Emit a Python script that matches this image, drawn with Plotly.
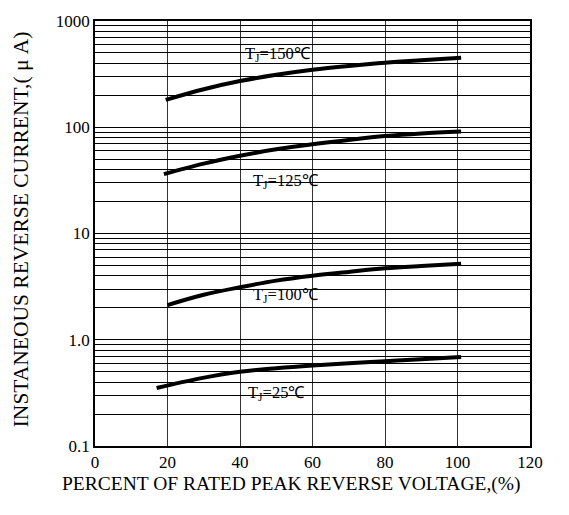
import math
import plotly.graph_objects as go

# Percent of rated peak reverse voltage (%)
x_150 = [19.5, 30, 40, 50, 60, 70, 80, 90, 101]
y_150 = [181, 228, 272, 312, 348, 378, 405, 428, 451]

x_125 = [19, 30, 40, 50, 60, 70, 80, 90, 101]
y_125 = [36.2, 45.5, 53.9, 62.0, 69.2, 76.0, 82.6, 87.5, 91.4]

x_100 = [20, 30, 40, 50, 60, 70, 80, 90, 101]
y_100 = [2.12, 2.65, 3.12, 3.6, 4.0, 4.35, 4.7, 4.95, 5.2]

x_25 = [17, 29, 40, 50, 60, 70, 80, 90, 101]
y_25 = [0.351, 0.433, 0.50, 0.54, 0.573, 0.60, 0.628, 0.655, 0.689]

curve_labels = ["T<sub>J</sub>=150℃", "T<sub>J</sub>=125℃", "T<sub>J</sub>=100℃", "T<sub>J</sub>=25℃"]
label_x = [50.4, 52.8, 52.8, 50.1]
label_y = [494, 31.5, 2.65, 0.313]

x_ticks = [0, 20, 40, 60, 80, 100, 120]
y_decades = [0.1, 1.0, 10, 100, 1000]
y_decade_text = ["0.1", "1.0", "10", "100", "1000"]

x_title = "PERCENT OF RATED PEAK REVERSE VOLTAGE,(%)"
y_title = "INSTANEOUS REVERSE CURRENT,( μ A)"

FONT = "Liberation Serif"

# all minor grid values 1..9 per decade
y_tickvals = []
y_ticktext = []
for i, d in enumerate(y_decades[:-1]):
    for m in range(1, 10):
        y_tickvals.append(round(d * m, 6))
        y_ticktext.append(y_decade_text[i] if m == 1 else "")
y_tickvals.append(y_decades[-1])
y_ticktext.append(y_decade_text[-1])

fig = go.Figure()
for xs, ys in [(x_150, y_150), (x_125, y_125), (x_100, y_100), (x_25, y_25)]:
    fig.add_trace(go.Scatter(x=xs, y=ys, mode="lines",
                             line=dict(color="black", width=4, shape="spline"),
                             showlegend=False, hoverinfo="skip"))

for t, lx, ly in zip(curve_labels, label_x, label_y):
    fig.add_annotation(x=lx, y=math.log10(ly), yref="y", xref="x", text=t, showarrow=False,
                       font=dict(family=FONT, size=16.5, color="black"),
                       xanchor="center", yanchor="middle")

fig.add_annotation(xref="paper", yref="paper", x=0.4506, y=-0.0905, text=x_title,
                   showarrow=False, font=dict(family=FONT, size=19.5, color="black"),
                   xanchor="center", yanchor="middle")
fig.add_annotation(xref="paper", yref="paper", x=-0.170, y=0.510, text=y_title,
                   showarrow=False, textangle=-90,
                   font=dict(family=FONT, size=21.5, color="black"),
                   xanchor="center", yanchor="middle")

fig.update_xaxes(range=[0, 120], tickvals=x_ticks, showgrid=True, gridcolor="#333",
                 gridwidth=1, zeroline=False, showline=True, mirror=True,
                 linecolor="black", linewidth=1.5, ticks="",
                 tickfont=dict(family=FONT, size=17, color="black"))
fig.update_yaxes(type="log", range=[-1, 3], tickvals=y_tickvals, ticktext=y_ticktext,
                 showgrid=True, gridcolor="#000", gridwidth=1, zeroline=False,
                 showline=True, mirror=True, linecolor="black", linewidth=1.5, ticks="",
                 ticklabeloverflow="allow",
                 tickfont=dict(family=FONT, size=17, color="black"))

fig.update_layout(width=569, height=515, margin=dict(l=95, r=39, t=14, b=69),
                  paper_bgcolor="white", plot_bgcolor="white", hovermode=False,
                  font=dict(family=FONT, color="black"))

# remove the browser's default 8px body margin so the figure sits at the page origin
fig.write_html("out.html", config={"displayModeBar": False},
               post_script="document.body.style.margin='0';")
